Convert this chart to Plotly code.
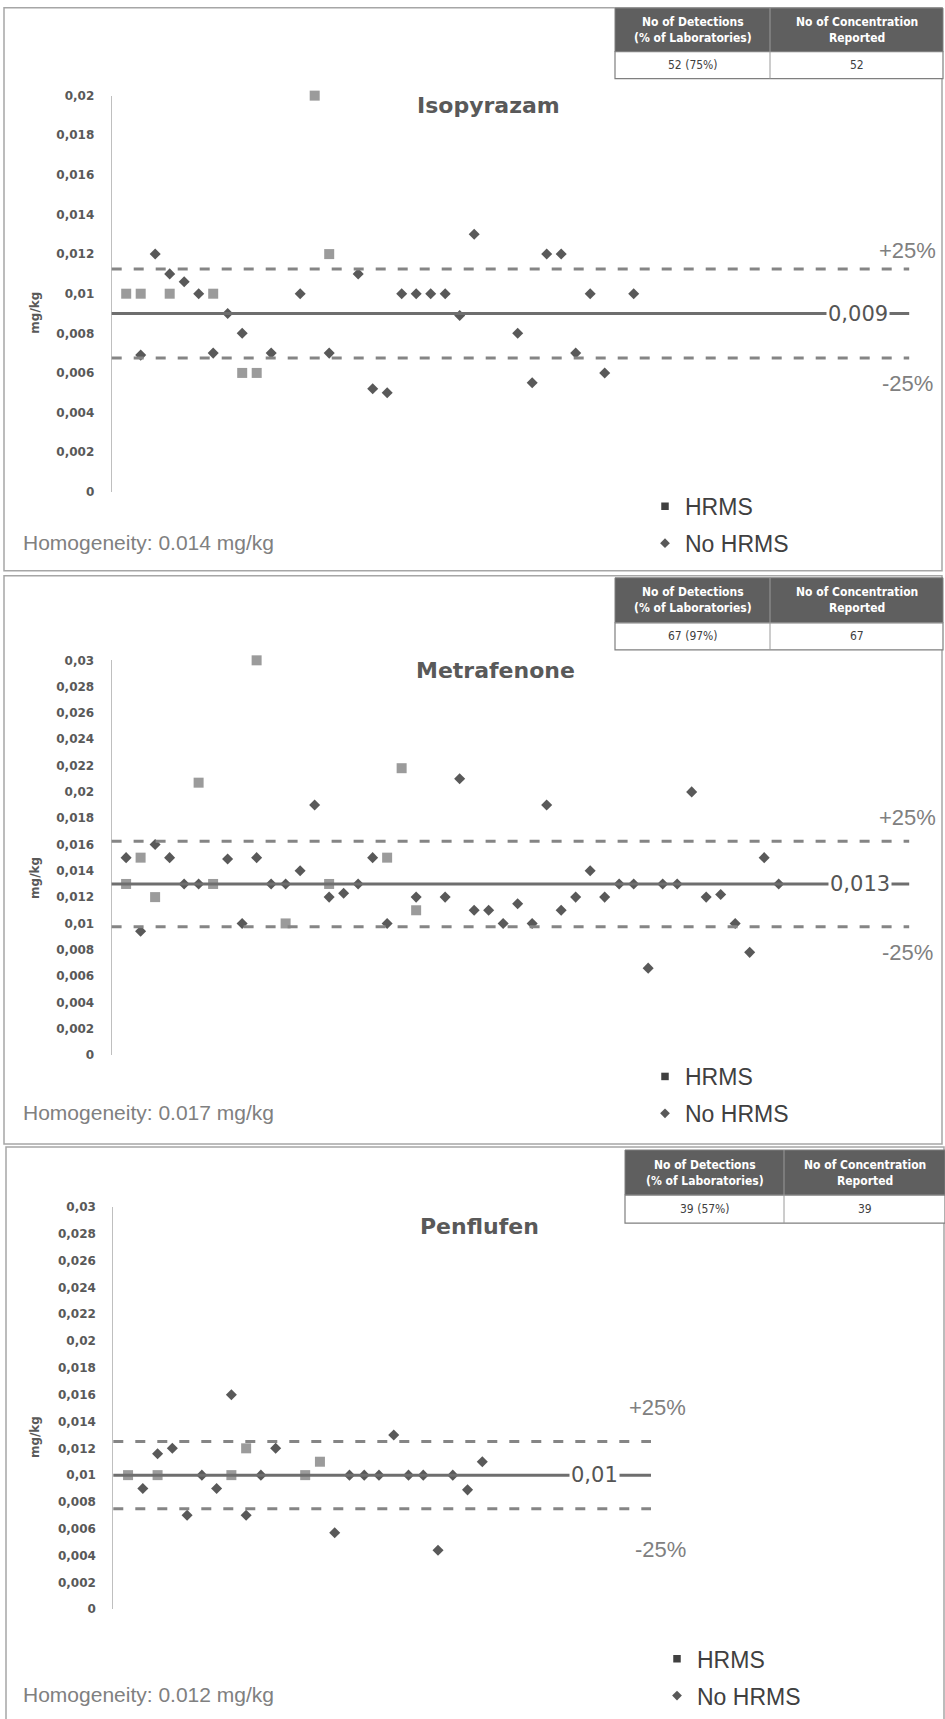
import plotly.graph_objects as go

W, H = 945, 1719

# ---------------- data ----------------
# Panel 1: Isopyrazam
iso_hrms_lab = [1, 2, 4, 7, 9, 10, 14, 15]
iso_hrms_val = [0.010, 0.010, 0.010, 0.010, 0.006, 0.006, 0.020, 0.012]
iso_nohrms_lab = [2, 3, 4, 5, 6, 7, 8, 9, 11, 13, 15, 17, 18, 19, 20, 21, 22, 23, 24, 25,
                  28, 29, 30, 31, 32, 33, 34, 36]
iso_nohrms_val = [0.0069, 0.012, 0.011, 0.0106, 0.010, 0.007, 0.009, 0.008, 0.007, 0.010,
                  0.007, 0.011, 0.0052, 0.005, 0.010, 0.010, 0.010, 0.010, 0.0089, 0.013,
                  0.008, 0.0055, 0.012, 0.012, 0.007, 0.010, 0.006, 0.010]

# Panel 2: Metrafenone
met_hrms_lab = [1, 2, 3, 6, 7, 10, 12, 15, 19, 20, 21]
met_hrms_val = [0.013, 0.015, 0.012, 0.0207, 0.013, 0.030, 0.010, 0.013, 0.015, 0.0218, 0.011]
met_nohrms_lab = [1, 2, 3, 4, 5, 6, 8, 9, 10, 11, 12, 13, 14, 15, 16, 17, 18, 19, 21,
                  23, 24, 25, 26, 27, 28, 29, 30, 31, 32, 33, 34, 35, 36, 37, 38, 39, 40,
                  41, 42, 43, 44, 45, 46]
met_nohrms_val = [0.015, 0.0094, 0.016, 0.015, 0.013, 0.013, 0.0149, 0.010, 0.015, 0.013,
                  0.013, 0.014, 0.019, 0.012, 0.0123, 0.013, 0.015, 0.010, 0.012,
                  0.012, 0.021, 0.011, 0.011, 0.010, 0.0115, 0.010, 0.019, 0.011, 0.012,
                  0.014, 0.012, 0.013, 0.013, 0.0066, 0.013, 0.013, 0.020, 0.012, 0.0122,
                  0.010, 0.0078, 0.015, 0.013]

# Panel 3: Penflufen
pen_hrms_lab = [1, 3, 8, 9, 13, 14]
pen_hrms_val = [0.010, 0.010, 0.010, 0.012, 0.010, 0.011]
pen_nohrms_lab = [2, 3, 4, 5, 6, 7, 8, 9, 10, 11, 15, 16, 17, 18, 19, 20, 21, 22, 23, 24, 25]
pen_nohrms_val = [0.009, 0.0116, 0.012, 0.007, 0.010, 0.009, 0.016, 0.007, 0.010, 0.012,
                  0.0057, 0.010, 0.010, 0.010, 0.013, 0.010, 0.010, 0.0044, 0.010, 0.0089, 0.011]

titles = ["Isopyrazam", "Metrafenone", "Penflufen"]
assigned = [0.009, 0.013, 0.01]
assigned_labels = ["0,009", "0,013", "0,01"]
homogeneity = ["Homogeneity: 0.014 mg/kg", "Homogeneity: 0.017 mg/kg", "Homogeneity: 0.012 mg/kg"]
detections = ["52 (75%)", "67 (97%)", "39 (57%)"]
reported = ["52", "67", "39"]
table_headers = ["No of Detections<br>(% of Laboratories)", "No of Concentration<br>Reported"]

yticks_p1 = [0, 0.002, 0.004, 0.006, 0.008, 0.01, 0.012, 0.014, 0.016, 0.018, 0.02]
yticklabels_p1 = ["0", "0,002", "0,004", "0,006", "0,008", "0,01", "0,012", "0,014",
                  "0,016", "0,018", "0,02"]
yticks_p23 = [0, 0.002, 0.004, 0.006, 0.008, 0.01, 0.012, 0.014, 0.016, 0.018, 0.02,
              0.022, 0.024, 0.026, 0.028, 0.03]
yticklabels_p23 = ["0", "0,002", "0,004", "0,006", "0,008", "0,01", "0,012", "0,014",
                   "0,016", "0,018", "0,02", "0,022", "0,024", "0,026", "0,028", "0,03"]

# ---------------- layout geometry (pixels) ----------------
Y_OFF, Y_SCALE = 6.4, 0.9915


def xp(px):
    return px / W


def yp(py):
    page = (py - Y_OFF) / Y_SCALE
    return 1 - page / H


panels = [
    dict(xpx=(111.7, 909.2), xr=[0, 55], ypx=(491, 95), yr=[0, 0.02],
         ticks=(yticks_p1, yticklabels_p1),
         data=(iso_hrms_lab, iso_hrms_val, iso_nohrms_lab, iso_nohrms_val),
         title_xy=(488, 105), lab_x=857.5, plus=(907, 250), minus=(907, 383),
         ytitle_y=312, homo_y=542, legend_xy=(666, 524),
         border=(4, 7.2, 942, 570),
         table=dict(x0=615, x1=943, xm=770, y0=7.5, y1=51, y2=78)),
    dict(xpx=(111.6, 909.2), xr=[0, 55], ypx=(1054, 659.5), yr=[0, 0.03],
         ticks=(yticks_p23, yticklabels_p23),
         data=(met_hrms_lab, met_hrms_val, met_nohrms_lab, met_nohrms_val),
         title_xy=(496, 670), lab_x=860, plus=(907, 817), minus=(907, 952),
         ytitle_y=877, homo_y=1112, legend_xy=(666, 1094),
         border=(4, 575, 942, 1143),
         table=dict(x0=615, x1=943, xm=770, y0=577, y1=622, y2=649)),
    dict(xpx=(113.3, 651), xr=[0, 36.43], ypx=(1608, 1206), yr=[0, 0.03],
         ticks=(yticks_p23, yticklabels_p23),
         data=(pen_hrms_lab, pen_hrms_val, pen_nohrms_lab, pen_nohrms_val),
         title_xy=(479, 1225), lab_x=594, plus=(657, 1406), minus=(660, 1548),
         ytitle_y=1436, homo_y=1693, legend_xy=(678, 1676),
         border=(6, 1146, 944, 1740),
         table=dict(x0=625, x1=945, xm=784, y0=1149, y1=1194, y2=1222)),
]

HRMS_COLOR = "#9b9b9b"
NOHRMS_COLOR = "#595959"
TICK_FONT = dict(family="DejaVu Sans", size=12, color="#595959", weight="bold")

fig = go.Figure()
shapes = []
annotations = []
layout = dict(width=W, height=H, margin=dict(l=0, r=0, t=0, b=0), autosize=False,
              paper_bgcolor="white", plot_bgcolor="rgba(0,0,0,0)")


def ann(text, x, y, font, xanchor="center", yanchor="middle", **kw):
    d = dict(text=text, xref="paper", yref="paper", x=x, y=y, showarrow=False,
             xanchor=xanchor, yanchor=yanchor, font=font)
    d.update(kw)
    annotations.append(d)


for i, p in enumerate(panels):
    n = "" if i == 0 else str(i + 1)
    xa, ya = "x" + n, "y" + n
    hl, hv, nl, nv = p["data"]
    lg = "legend" if i == 0 else "legend" + n

    fig.add_trace(go.Scatter(x=hl, y=hv, mode="markers", name="HRMS", xaxis=xa, yaxis=ya,
                             marker=dict(symbol="square", size=10, color=HRMS_COLOR,
                                         line=dict(width=0)),
                             cliponaxis=False, showlegend=False))
    fig.add_trace(go.Scatter(x=nl, y=nv, mode="markers", name="No HRMS", xaxis=xa, yaxis=ya,
                             marker=dict(symbol="diamond", size=8.5, color=NOHRMS_COLOR,
                                         line=dict(width=0)),
                             cliponaxis=False, showlegend=False))
    # legend entries
    fig.add_trace(go.Scatter(x=[None], y=[None], mode="markers", name="HRMS", xaxis=xa, yaxis=ya,
                             marker=dict(symbol="square", size=7.5, color="#404040"),
                             legend=lg, legendgroup="h" + n, showlegend=True))
    fig.add_trace(go.Scatter(x=[None], y=[None], mode="markers", name="No HRMS", xaxis=xa,
                             yaxis=ya, marker=dict(symbol="diamond", size=7.5, color="#595959"),
                             legend=lg, legendgroup="n" + n, showlegend=True))

    layout["xaxis" + n] = dict(domain=[xp(p["xpx"][0]), xp(p["xpx"][1])], range=p["xr"],
                               visible=False, anchor=ya)
    layout["yaxis" + n] = dict(domain=[yp(p["ypx"][0]), yp(p["ypx"][1])], range=p["yr"],
                               anchor=xa, showline=True, linecolor="#bfbfbf", linewidth=1,
                               showgrid=False, zeroline=False, tickvals=p["ticks"][0],
                               ticktext=p["ticks"][1], ticks="", ticklabelstandoff=14,
                               tickfont=TICK_FONT)
    lx, ly = p["legend_xy"]
    layout[lg] = dict(x=xp(lx - 21), y=yp(ly), xanchor="left", yanchor="middle",
                      font=dict(family="Liberation Sans", size=23, color="#404040"),
                      bgcolor="rgba(0,0,0,0)", tracegroupgap=4, itemwidth=30)

    a = assigned[i]
    xd = xa + " domain"
    shapes.append(dict(type="line", xref=xd, yref=ya, x0=0, x1=1, y0=a, y1=a,
                       line=dict(color="#6e6e6e", width=3)))
    for f in (1.25, 0.75):
        shapes.append(dict(type="line", xref=xd, yref=ya, x0=0, x1=1, y0=a * f, y1=a * f,
                           line=dict(color="#858585", width=3, dash="10px,12px")))

    annotations.append(dict(text=assigned_labels[i], xref="paper", yref=ya,
                            x=xp(p["lab_x"]), y=a, showarrow=False, bgcolor="white",
                            borderpad=1, xanchor="center", yanchor="middle",
                            font=dict(family="DejaVu Sans", size=21, color="#555555")))
    pct_font = dict(family="Liberation Sans", size=22, color="#808080")
    ann("+25%", xp(p["plus"][0]), yp(p["plus"][1]), pct_font)
    ann("-25%", xp(p["minus"][0]), yp(p["minus"][1]), pct_font)
    ann(titles[i], xp(p["title_xy"][0]), yp(p["title_xy"][1]),
        dict(family="DejaVu Sans", size=22, color="#595959", weight="bold"))
    ann("mg/kg", xp(35), yp(p["ytitle_y"]),
        dict(family="DejaVu Sans", size=12, color="#595959", weight="bold"), textangle=-90)
    ann(homogeneity[i], xp(21), yp(p["homo_y"]),
        dict(family="Liberation Sans", size=21, color="#808080"), xanchor="left")

    # panel border
    bx0, by0, bx1, by1 = p["border"]
    shapes.append(dict(type="rect", xref="paper", yref="paper", x0=xp(bx0), x1=xp(bx1),
                       y0=yp(by0), y1=yp(by1), line=dict(color="#a6a6a6", width=1.5),
                       layer="below"))

    # table
    t = p["table"]
    shapes.append(dict(type="rect", xref="paper", yref="paper", x0=xp(t["x0"]), x1=xp(t["x1"]),
                       y0=yp(t["y0"]), y1=yp(t["y1"]), fillcolor="#5f5f5f",
                       line=dict(color="#7f7f7f", width=1)))
    shapes.append(dict(type="rect", xref="paper", yref="paper", x0=xp(t["x0"]), x1=xp(t["x1"]),
                       y0=yp(t["y1"]), y1=yp(t["y2"]), fillcolor="white",
                       line=dict(color="#7f7f7f", width=1.2)))
    shapes.append(dict(type="line", xref="paper", yref="paper", x0=xp(t["xm"]), x1=xp(t["xm"]),
                       y0=yp(t["y0"]), y1=yp(t["y2"]), line=dict(color="#9a9a9a", width=1)))
    c1 = (t["x0"] + t["xm"]) / 2
    c2 = (t["xm"] + t["x1"]) / 2
    hy = (t["y0"] + t["y1"]) / 2
    dy = (t["y1"] + t["y2"]) / 2
    hfont = dict(family="DejaVu Sans Condensed, DejaVu Sans", size=12, color="white",
                 weight="bold")
    dfont = dict(family="DejaVu Sans Condensed, DejaVu Sans", size=12, color="#404040")
    ann(table_headers[0], xp(c1), yp(hy), hfont)
    ann(table_headers[1], xp(c2), yp(hy), hfont)
    ann(detections[i], xp(c1), yp(dy), dfont)
    ann(reported[i], xp(c2), yp(dy), dfont)

layout["shapes"] = shapes
layout["annotations"] = annotations
fig.update_layout(**layout)

page_fix = (
    "var de=document.documentElement, b=document.body;"
    "de.style.margin='0';de.style.padding='0';de.style.overflow='hidden';"
    "b.style.margin='0';b.style.padding='0';b.style.overflow='hidden';"
)
fig.write_html("out.html", config={"displayModeBar": False}, post_script=page_fix)
